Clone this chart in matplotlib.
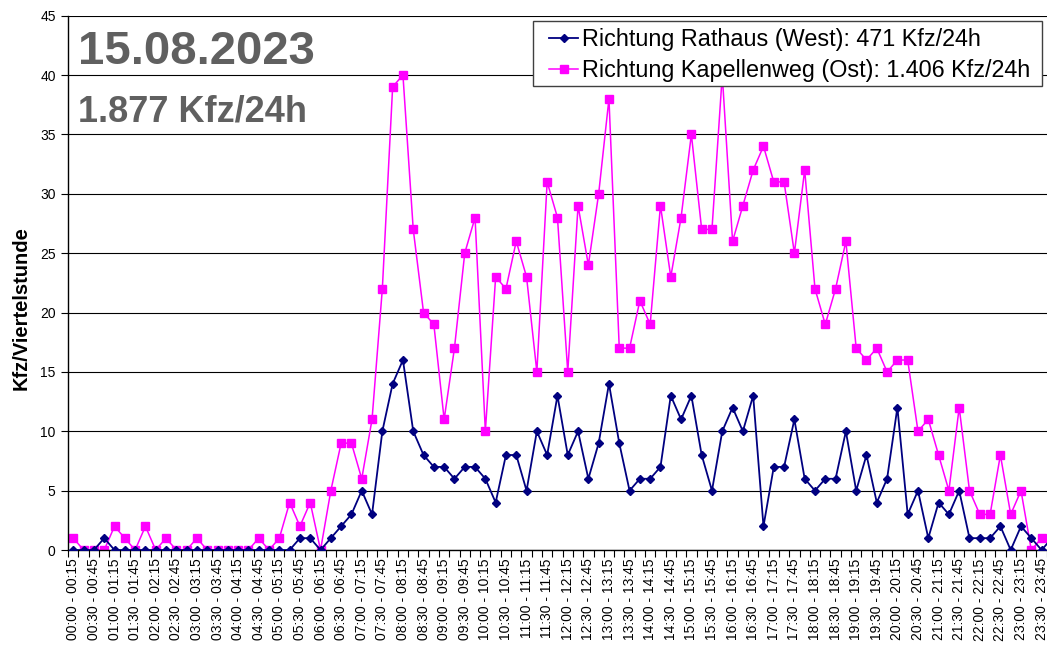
import numpy as np
import matplotlib
matplotlib.use("Agg")
import matplotlib.pyplot as plt
from matplotlib.patches import Rectangle

plt.rcParams['font.family'] = ['Liberation Sans', 'DejaVu Sans']

# 15-minute intervals of the day
intervals = [f"{(q*15)//60:02d}:{(q*15)%60:02d} - {((q+1)*15)//60 % 24:02d}:{((q+1)*15)%60:02d}"
             for q in range(96)]

# Richtung Rathaus (West)
west = [0, 0, 0, 1, 0, 0, 0, 0, 0, 0, 0, 0, 0, 0, 0, 0, 0, 0, 0, 0, 0, 0, 1, 1,
        0, 1, 2, 3, 5, 3, 10, 14, 16, 10, 8, 7, 7, 6, 7, 7, 6, 4, 8, 8, 5, 10, 8, 13,
        8, 10, 6, 9, 14, 9, 5, 6, 6, 7, 13, 11, 13, 8, 5, 10, 12, 10, 13, 2, 7, 7, 11, 6,
        5, 6, 6, 10, 5, 8, 4, 6, 12, 3, 5, 1, 4, 3, 5, 1, 1, 1, 2, 0, 2, 1, 0, 1]

# Richtung Kapellenweg (Ost)
ost = [1, 0, 0, 0, 2, 1, 0, 2, 0, 1, 0, 0, 1, 0, 0, 0, 0, 0, 1, 0, 1, 4, 2, 4,
       0, 5, 9, 9, 6, 11, 22, 39, 40, 27, 20, 19, 11, 17, 25, 28, 10, 23, 22, 26, 23, 15, 31, 28,
       15, 29, 24, 30, 38, 17, 17, 21, 19, 29, 23, 28, 35, 27, 27, 40, 26, 29, 32, 34, 31, 31, 25, 32,
       22, 19, 22, 26, 17, 16, 17, 15, 16, 16, 10, 11, 8, 5, 12, 5, 3, 3, 8, 3, 5, 0, 1, 1]

label_west = "Richtung Rathaus (West): 471 Kfz/24h"
label_ost = "Richtung Kapellenweg (Ost): 1.406 Kfz/24h"
title_date = "15.08.2023"
title_total = "1.877 Kfz/24h"

x = np.arange(len(intervals))
W, H = 1047, 649

fig = plt.figure(figsize=(10.47, 6.49), dpi=100)
ax = fig.add_axes([0.0651, 0.1525, 0.9445, 0.8234])

ax.plot(x, west, color='#000080', linewidth=1.3, marker='D', markersize=4.5,
        label=label_west, zorder=3)
ax.plot(x, ost, color='#FF00FF', linewidth=1.1, marker='s', markersize=5.5,
        label=label_ost, zorder=2)

ax.set_xlim(-0.5, 95.5)
ax.set_ylim(0, 45)
ax.set_yticks(np.arange(0, 46, 5))
ax.yaxis.grid(True, color='black', linewidth=0.8)
ax.set_axisbelow(True)

# category boundary ticks, labels on every second category
ax.set_xticks(np.arange(-0.5, 96, 1))
ax.set_xticklabels([])
ax.set_xticks(x[::2], minor=True)
ax.set_xticklabels(intervals[::2], minor=True, rotation=90, fontsize=10)
ax.tick_params(axis='x', which='major', length=5, width=0.8, direction='out')
ax.tick_params(axis='x', which='minor', length=0, pad=6)
ax.tick_params(axis='y', length=5, width=0.8, labelsize=10, pad=4)

for s in ['top', 'right']:
    ax.spines[s].set_visible(False)
ax.spines['left'].set_linewidth(1.0)
ax.spines['bottom'].set_linewidth(1.0)

ax.set_ylabel('Kfz/Viertelstunde', fontsize=14.5, fontweight='bold')
ax.yaxis.set_label_coords(-0.038, 0.453)

fig.text(78 / W, 1 - 64 / H, title_date, fontsize=34, fontweight='bold',
         color='#606060', va='baseline', ha='left')
fig.text(78 / W, 1 - 121 / H, title_total, fontsize=26, fontweight='bold',
         color='#606060', va='baseline', ha='left')

# legend box (Excel style, wide left padding)
box = Rectangle((533.3 / W, 1 - 86 / H), (1042 - 533.3) / W, 65.3 / H,
                transform=fig.transFigure, facecolor='white', edgecolor='#404040',
                linewidth=1.0, zorder=4, clip_on=False)
ax.add_patch(box)

leg = ax.legend(loc='upper left', bbox_to_anchor=(549 / W, 1 - 27.8 / H),
                bbox_transform=fig.transFigure, fontsize=16.8, frameon=False,
                handlelength=1.26, handletextpad=0.15, borderpad=0,
                labelspacing=0.37, borderaxespad=0)
leg.set_zorder(5)

plt.savefig('out.png', dpi=100)
